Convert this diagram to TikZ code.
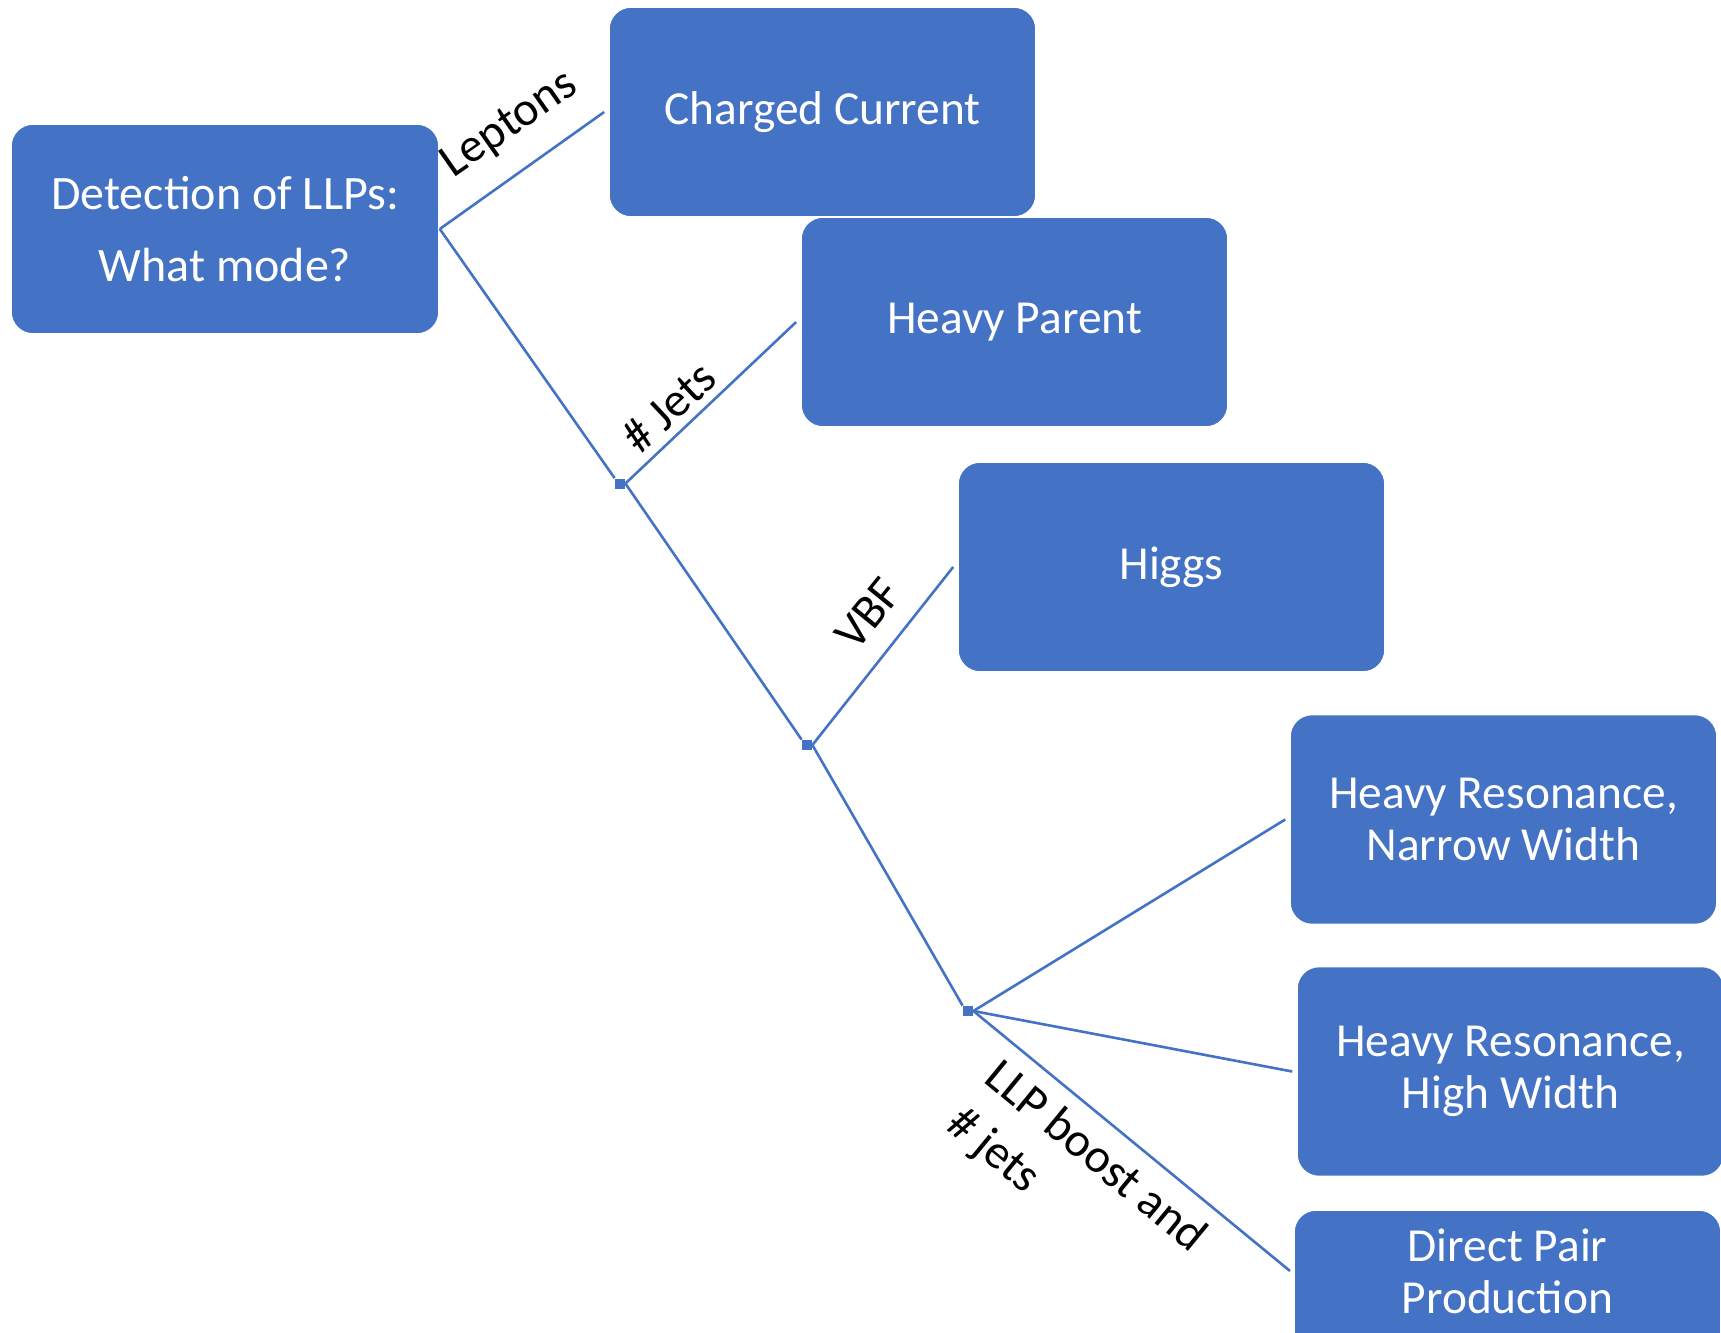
\documentclass[tikz,border=0pt]{standalone}
\usepackage{fontspec}
\setmainfont{Carlito}
\definecolor{boxblue}{HTML}{4472C4}
\begin{document}
\begin{tikzpicture}[x=0.5pt,y=-0.5pt,
  mode/.style={rectangle, rounded corners=11pt, fill=boxblue, draw=white,
    line width=0.8pt, minimum width=213.5pt, minimum height=105pt,
    text=white, font=\fontsize{23.7}{26}\selectfont, align=center, inner sep=0pt},
  junction/.style={rectangle, fill=boxblue, minimum size=5pt, inner sep=0pt},
  branch/.style={draw=boxblue, line width=1.3pt},
  lbl/.style={font=\fontsize{24}{30}\selectfont, text=black, inner sep=0pt}
]
\useasboundingbox (0,0) rectangle (1721,1333);
\clip (0,0) rectangle (1721,1333);

% decision points
\node[junction] (j1) at (620,483.5) {};
\node[junction] (j2) at (807,745) {};
\node[junction] (j3) at (968,1011) {};

% outcome boxes
\node[mode, minimum width=214pt, font=\fontsize{24}{36}\selectfont] (root) at (225,229)
  {Detection of LLPs:\\What mode?};
\node[mode] (cc) at (822.5,112) {Charged Current};
\node[mode] (hp) at (1014.5,322) {Heavy Parent};
\node[mode] (higgs) at (1171.5,567) {Higgs};
\node[mode] (narrow) at (1503.5,819.5) {Heavy Resonance,\\Narrow Width};
\node[mode] (high) at (1510.5,1071.5) {Heavy Resonance,\\High Width};
\node[mode] (dpbox) at (1507.5,1315) {};
\node[text=white, font=\fontsize{23.7}{26}\selectfont, align=center, inner sep=0pt]
  (dptext) at (1507.5,1271) {Direct Pair\\Production};
\coordinate (dpin) at (1290,1271);

% branches
\draw[branch] (root.east) -- ([xshift=-2pt]cc.west);
\draw[branch] (root.east) -- (j1.north west);
\draw[branch] (j1.east) -- ([xshift=-2pt]hp.west);
\draw[branch] (j1.east) -- (j2.north west);
\draw[branch] (j2.east) -- ([xshift=-2pt]higgs.west);
\draw[branch] (j2.east) -- (j3.north west);
\draw[branch] (j3.east) -- ([xshift=-2pt]narrow.west);
\draw[branch] (j3.east) -- ([xshift=-2pt]high.west);
\draw[branch] (j3.east) -- (dpin);

% branch labels
\node[lbl, rotate=34.9] (lleptons) at (510,125) {Leptons};
\node[lbl, rotate=43.3] (ljets) at (669,407) {\# Jets};
\node[lbl, rotate=50.9] (lvbf) at (868,614) {VBF};
\node[lbl, rotate=-39.4, align=left] (lboost) at (1076,1181) {LLP boost and\\\# jets};
\end{tikzpicture}
\end{document}
